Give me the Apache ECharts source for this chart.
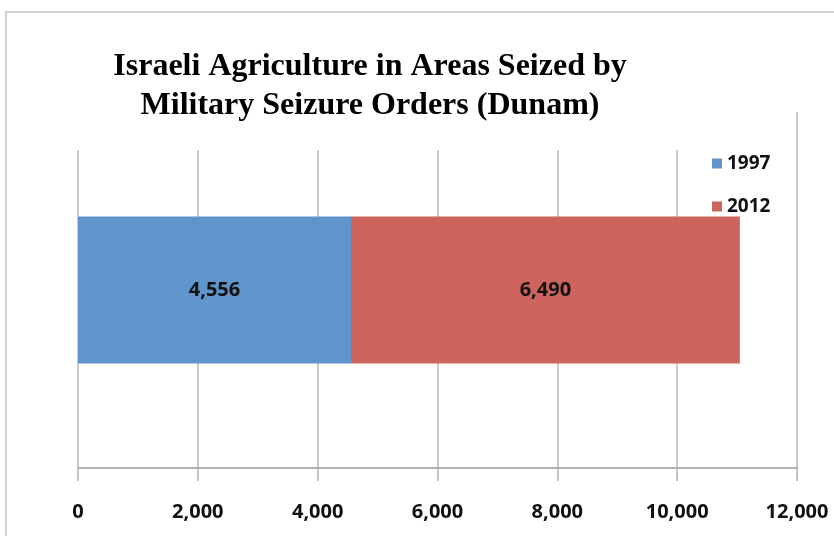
<!DOCTYPE html>
<html><head><meta charset="utf-8">
<script src="https://cdn.jsdelivr.net/npm/echarts@6/dist/echarts.min.js"></script>
<style>html,body{margin:0;padding:0;background:#fff}#c{width:834px;height:536px}</style>
</head><body><div id="c"></div>
<script>
const categories = ['Dunam'];
const seriesNames = ['1997', '2012'];
const values1997 = [4556];
const values2012 = [6490];
const xTicks = [0, 2000, 4000, 6000, 8000, 10000, 12000];

const chart = echarts.init(document.getElementById('c'));
const fmt = v => Number(v).toLocaleString('en-US');
const lblFont = { fontFamily: 'Open Sans', fontWeight: 'bold', fontSize: 20, color: '#111' };
chart.setOption({
  backgroundColor: '#fff',
  animation: false,
  title: {
    text: 'Israeli Agriculture in Areas Seized by\nMilitary Seizure Orders (Dunam)',
    left: 370, top: 47, textAlign: 'center', z: 100, padding: 0,
    textStyle: { fontFamily: 'Liberation Serif', fontWeight: 'bold', fontSize: 32, lineHeight: 39, color: '#000' }
  },
  legend: {
    orient: 'vertical', left: 712, top: 154, itemGap: 24, itemWidth: 10, itemHeight: 10,
    icon: 'rect', z: 100, padding: 0,
    textStyle: { fontFamily: 'Open Sans', fontWeight: 'bold', fontSize: 19, color: '#111' },
    data: seriesNames
  },
  graphic: [
    { type: 'rect', z: 50, shape: { x: 70, y: 0, width: 722, height: 150 }, style: { fill: '#fff' } },
    { type: 'rect', z: 51, shape: { x: 6, y: 12, width: 840, height: 540 }, style: { fill: 'none', stroke: '#cfcfcf', lineWidth: 2 } }
  ],
  grid: { left: 78, right: 37, top: 112, bottom: 68 },
  xAxis: {
    type: 'value', min: 0, max: 12000, interval: 2000,
    axisLine: { show: true, lineStyle: { color: '#b3b3b3', width: 2 } },
    axisTick: { show: true, length: 13, lineStyle: { color: '#b3b3b3', width: 1.5 } },
    splitLine: { show: true, lineStyle: { color: '#b8b8b8', width: 1.5 } },
    axisLabel: Object.assign({ margin: 34, formatter: v => fmt(v) }, lblFont)
  },
  yAxis: {
    type: 'category', data: categories,
    axisLine: { show: false }, axisTick: { show: false }, axisLabel: { show: false }
  },
  series: [
    { name: seriesNames[0], type: 'bar', stack: 'a', data: values1997, barWidth: 147,
      itemStyle: { color: '#5f95ca' },
      label: Object.assign({ show: true, position: 'inside', formatter: p => fmt(p.value) }, lblFont) },
    { name: seriesNames[1], type: 'bar', stack: 'a', data: values2012, barWidth: 147,
      itemStyle: { color: '#cd645d' },
      label: Object.assign({ show: true, position: 'inside', formatter: p => fmt(p.value) }, lblFont) }
  ]
});
</script></body></html>
